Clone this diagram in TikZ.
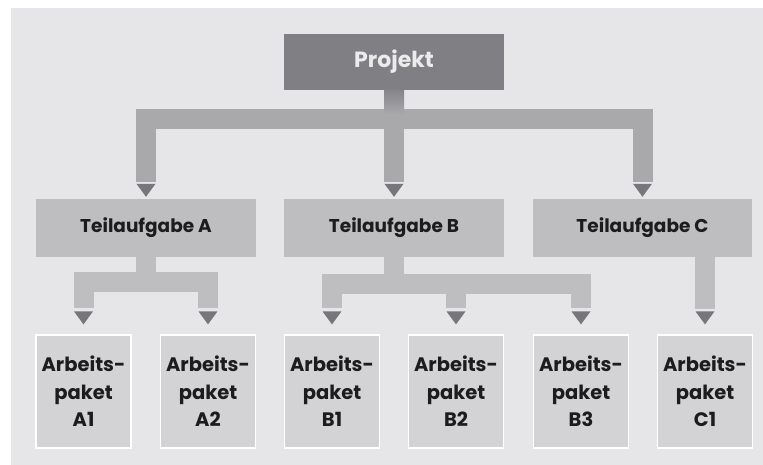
\documentclass[tikz,border=0pt]{standalone}
\usepackage{fontspec}
\setmainfont{Poppins}
\definecolor{bgc}{HTML}{E6E6E8}
\definecolor{projc}{HTML}{808084}
\definecolor{projtext}{HTML}{ECECEC}
\definecolor{topbar}{HTML}{A9A9AC}
\definecolor{midc}{HTML}{BEBEC1}
\definecolor{leafc}{HTML}{D3D3D5}
\definecolor{tipc}{HTML}{77777B}
\definecolor{txt}{HTML}{1C1C1C}
\begin{document}
\begin{tikzpicture}[x=1pt,y=-1pt,
  projbox/.style={fill=projc,minimum width=220pt,minimum height=56pt,inner sep=0pt,
    text=projtext,font=\fontsize{22}{24}\selectfont\bfseries},
  taskbox/.style={fill=midc,minimum width=220pt,minimum height=58pt,inner sep=0pt,
    text=txt,font=\fontsize{18.5}{20}\selectfont\bfseries},
  leafbox/.style={fill=leafc,draw=white,line width=1.2pt,minimum width=95pt,minimum height=113pt,
    inner sep=0pt,text=txt,align=center,font=\fontsize{19.5}{27.5}\selectfont\bfseries},
  topconn/.style={draw=topbar,line width=20pt,line join=miter,line cap=butt},
  subconn/.style={draw=midc,line width=20pt,line join=miter,line cap=butt},
  tipfill/.style={fill=tipc}
]
\useasboundingbox (0,0) rectangle (763,465);
\fill[bgc] (11,8) rectangle (763,465);

% nodes
\node[projbox] (P) at (394,62) {Projekt};
\node[taskbox] (A) at (146,228) {Teilaufgabe A};
\node[taskbox] (B) at (394,228) {Teilaufgabe B};
\node[taskbox,minimum width=219pt] (C) at (642.5,228) {Teilaufgabe C};

\node[leafbox] (A1) at (83.5,391.5) {Arbeits-\\paket\\A1};
\node[leafbox] (A2) at (208,391.5) {Arbeits-\\paket\\A2};
\node[leafbox] (B1) at (332,391.5) {Arbeits-\\paket\\B1};
\node[leafbox] (B2) at (456,391.5) {Arbeits-\\paket\\B2};
\node[leafbox] (B3) at (581,391.5) {Arbeits-\\paket\\B3};
\node[leafbox] (C1) at (705,391.5) {Arbeits-\\paket\\C1};

% top level connectors
\coordinate (tl) at (A.north |- 0,119);
\coordinate (tr) at (C.north |- 0,119);
\draw[topconn] ([yshift=17pt]A.north) -- (tl) -- (tr) -- ([yshift=17pt]C.north);
\draw[topconn] (P.south) -- ([yshift=17pt]B.north);
\shade[top color=projc!85!topbar,bottom color=topbar] ([xshift=-10pt]P.south) rectangle ([xshift=10pt,yshift=-24pt]P.south);

% sub connectors A
\coordinate (al) at (A1.north |- 0,281.5);
\coordinate (ar) at (A2.north |- 0,281.5);
\draw[subconn] ([yshift=26pt]A1.north) -- (al) -- (ar) -- ([yshift=26pt]A2.north);
\draw[subconn] (A.south) -- (A.south |- al);

% sub connectors B
\coordinate (bl) at (B1.north |- 0,284);
\coordinate (br) at (B3.north |- 0,284);
\draw[subconn] ([yshift=26pt]B1.north) -- (bl) -- (br) -- ([yshift=26pt]B3.north);
\draw[subconn] (B.south) -- (B.south |- bl);
\draw[subconn] (B2.north |- bl) -- ([yshift=26pt]B2.north);

% sub connector C
\draw[subconn] (C1.north |- C.south) -- ([yshift=25pt]C1.north);

% arrow tips
\foreach \n in {A,B,C}{
  \fill[tipfill] ([xshift=-9.5pt,yshift=15pt]\n.north) -- ([xshift=9.5pt,yshift=15pt]\n.north) -- ([yshift=2pt]\n.north) -- cycle;
}
\foreach \n in {A1,A2,B1,B2,B3,C1}{
  \fill[tipfill] ([xshift=-9.5pt,yshift=23pt]\n.north) -- ([xshift=9.5pt,yshift=23pt]\n.north) -- ([yshift=10pt]\n.north) -- cycle;
}
\end{tikzpicture}
\end{document}
